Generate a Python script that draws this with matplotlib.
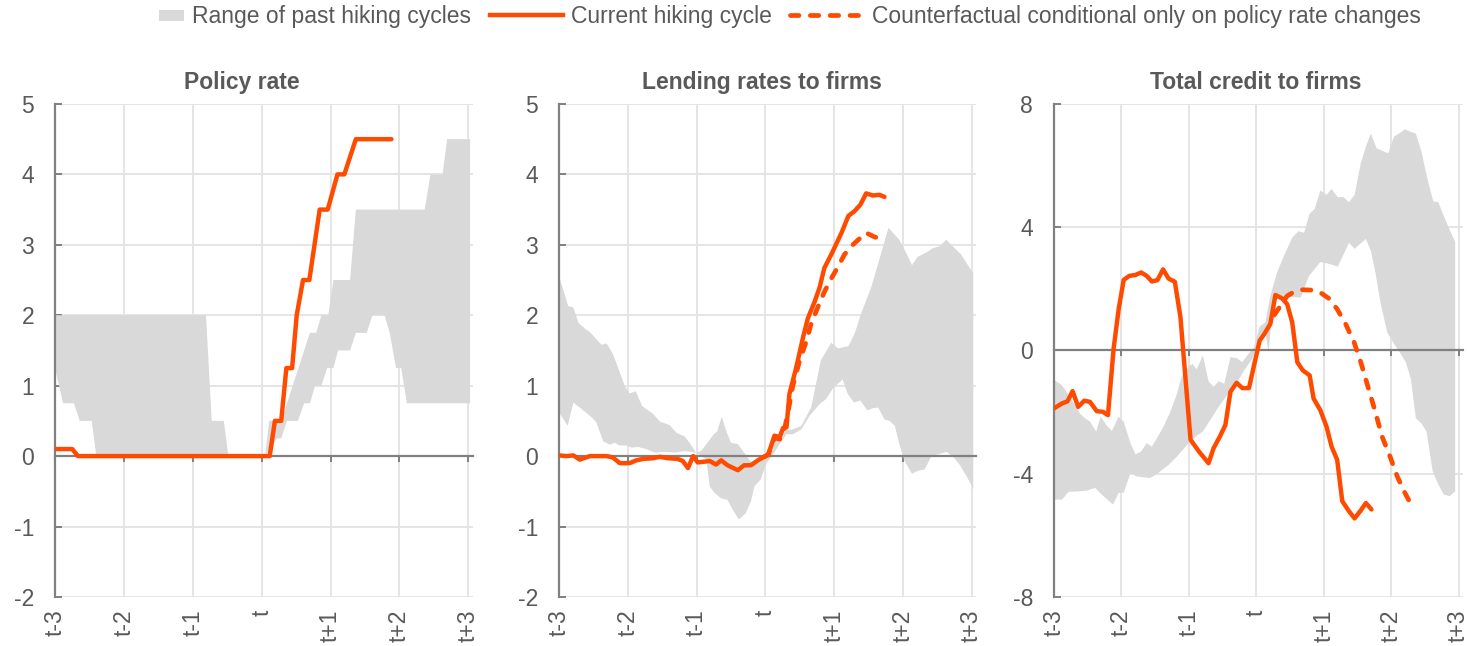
import matplotlib.pyplot as plt
from matplotlib.patches import Patch, Rectangle
from matplotlib.lines import Line2D
from matplotlib.legend_handler import HandlerPatch

plt.rcParams['font.family'] = ['Liberation Sans', 'DejaVu Sans']
plt.rcParams['axes.unicode_minus'] = False
plt.rcParams['lines.dash_capstyle'] = 'round'

ORANGE = '#FF4B00'
BAND = '#D9D9D9'
GRID = '#E3E3E3'
AXIS = '#808080'
TEXT = '#595959'
DASH = (1.8, 2.4)

# months relative to the first hike (t)
ticks = [-36, -24, -12, 0, 12, 24, 36]
tick_labels = ['t-3', 't-2', 't-1', 't', 't+1', 't+2', 't+3']

# --- Policy rate ---
policy_hi_m = [-36, -9.7, -8.7, -6.6, -5.8, 0.6, 1.3, 3.4, 8.4, 9.5, 10.4, 11.6, 12.5, 15.4,
               16.4, 28.4, 29.4, 31.5, 32.3, 36.3]
policy_hi = [2.0, 2.0, 0.5, 0.5, 0.0, 0.0, 0.5, 0.5, 1.75, 1.75, 2.0, 2.0, 2.5, 2.5,
             3.5, 3.5, 4.0, 4.0, 4.5, 4.5]
policy_lo_m = [-36, -34.6, -32.7, -31.7, -29.6, -28.8, 0.6, 2.6, 3.4, 4.4, 6.3, 7.4, 8.4, 9.3,
               10.4, 11.4, 12.5, 13.3, 15.4, 16.4, 18.3, 19.3, 21.4, 22.3, 23.4, 24.3, 25.3, 36.3]
policy_lo = [1.25, 0.75, 0.75, 0.5, 0.5, 0.0, 0.0, 0.25, 0.25, 0.5, 0.5, 0.75, 0.75, 1.0,
             1.0, 1.25, 1.25, 1.5, 1.5, 1.75, 1.75, 2.0, 2.0, 1.75, 1.25, 1.25, 0.75, 0.75]
policy_cur_m = [-36, -33, -32, 1.4, 2.3, 3.4, 4.3, 5.3, 6.1, 7.2, 8.3, 10.1, 11.5, 13.2, 14.4,
                16.4, 22.6]
policy_cur = [0.1, 0.1, 0.0, 0.0, 0.5, 0.5, 1.25, 1.25, 2.0, 2.5, 2.5, 3.5, 3.5, 4.0, 4.0,
              4.5, 4.5]

# --- Lending rates to firms ---
lend_hi_m = [-36, -34.4, -33.5, -32.6, -31.5, -30.6, -28.6, -27.7, -26.6, -24.5, -23.7, -22.6,
             -21.5, -19.6, -18.4, -16.7, -15.5, -14.1, -13.2, -12.1, -11.2, -10.0, -9.0, -8.4,
             -7.6, -6.7, -6.0, -4.8, -3.7, -2.5, -1.3, -0.2, 1.0, 2.8, 4.8, 6.3, 8.0, 9.7, 11.5,
             12.7, 14.5, 15.6, 16.7, 18.5, 19.9, 21.5, 23.4, 24.5, 25.6, 26.6, 28.1, 29.2, 30.4,
             31.6, 32.7, 34.2, 35.6, 36.3]
lend_hi = [2.55, 2.13, 2.11, 1.89, 1.81, 1.76, 1.58, 1.6, 1.45, 0.99, 0.89, 0.92,
           0.71, 0.6, 0.49, 0.44, 0.33, 0.28, 0.19, 0.05, 0.07, 0.2, 0.31, 0.35,
           0.56, 0.33, 0.19, 0.17, 0.05, -0.08, -0.05, 0.0, 0.12, 0.36, 0.38, 0.43, 0.69, 1.36, 1.61,
           1.53, 1.56, 1.74, 2.02, 2.4, 2.79, 3.24, 3.07, 2.9, 2.71, 2.83, 2.89, 2.95, 2.98,
           3.07, 2.98, 2.86, 2.68, 2.6]
lend_lo_m = [-36, -34.5, -33.5, -32.4, -30.3, -29.5, -28.3, -27.1, -26.3, -25.4, -24.2, -23.4,
             -22.2, -20.8, -19.3, -17.6, -15.8, -14.1, -12.9, -12.1, -11.0, -10.3, -9.7, -8.9,
             -7.7, -6.6, -5.7, -4.6, -3.4, -2.5, -1.9, -0.8, 0.2, 1.3, 2.5, 3.7, 4.8, 6.3, 7.7,
             9.5, 10.6, 11.8, 13.5, 14.4, 15.5, 16.6, 17.8, 18.8, 19.7, 20.8, 21.7, 22.6, 23.4,
             24.3, 25.6, 26.6, 27.8, 29.0, 30.4, 31.6, 32.7, 33.9, 35.3, 36.3]
lend_lo = [0.62, 0.43, 0.76, 0.69, 0.55, 0.48, 0.21, 0.16, 0.19, 0.15, 0.15, 0.12,
           0.13, 0.1, 0.05, 0.06, 0.05, 0.07, 0.06, 0.05, 0.0, -0.05, -0.43, -0.52,
           -0.6, -0.62, -0.76, -0.9, -0.81, -0.64, -0.43, -0.33, -0.1, 0.02, 0.17, 0.31, 0.31, 0.38,
           0.57, 0.74, 0.81, 0.96, 1.09, 0.88, 0.76, 0.79, 0.65, 0.68, 0.69, 0.52, 0.5, 0.43, 0.17,
           -0.07, -0.25, -0.21, -0.19, 0.0, 0.03, 0.06, 0.0, -0.12, -0.31, -0.47]
lend_cur_m = [-36, -34.7, -33.5, -32.4, -30.6, -29.2, -27.7, -26.6, -25.4, -23.7, -22.5, -21.3,
              -19.6, -18.4, -17.0, -15.3, -14.4, -13.5, -12.6, -11.8, -9.7, -8.6, -7.7, -6.6,
              -4.8, -3.7, -2.5, -1.3, -0.2, 0.5, 1.6, 2.5, 3.1, 3.7, 4.2, 5.4, 6.6, 7.4, 8.6, 9.5,
              10.3, 11.5, 13.3, 14.5, 15.6, 16.6, 17.6, 18.8, 19.9, 20.8]
lend_cur = [0.01, 0.0, 0.01, -0.05, 0.0, 0.0, 0.0, -0.02, -0.1, -0.1, -0.06, -0.04,
            -0.03, -0.01, -0.03, -0.04, -0.07, -0.17, 0.0, -0.09, -0.07, -0.12, -0.06, -0.13,
            -0.2, -0.13, -0.13, -0.06, -0.01, 0.02, 0.29, 0.27, 0.4, 0.41, 0.88, 1.26, 1.69, 1.95,
            2.19, 2.4, 2.67, 2.86, 3.17, 3.41, 3.48, 3.57, 3.73, 3.7, 3.71, 3.68]
lend_cf_m = [-0.2, 0.5, 1.6, 2.5, 3.4, 4.0, 4.8, 6.0, 7.2, 8.0, 9.2, 10.3, 11.5, 12.7, 13.8,
             15.0, 16.2, 17.6, 19.1, 20.8]
lend_cf = [-0.01, 0.02, 0.26, 0.24, 0.4, 0.64, 1.0, 1.36, 1.64, 1.88, 2.12, 2.33, 2.52, 2.69,
           2.86, 2.98, 3.07, 3.17, 3.11, 3.08]

# --- Total credit to firms ---
credit_hi_m = [-36, -34.6, -33.4, -32.3, -31.4, -30.5, -29.6, -28.5, -27.7, -26.7, -25.7, -24.5,
               -23.6, -22.4, -21.5, -20.5, -19.5, -18.6, -17.7, -16.5, -15.3, -14.2, -13.3, -12.3,
               -11.4, -10.6, -9.5, -8.5, -7.6, -6.7, -5.7, -4.6, -3.5, -2.5, -1.6, -0.4, 0.6, 1.6,
               2.5, 3.7, 4.9, 6.4, 7.5, 8.5, 9.5, 10.4, 11.4, 12.5, 13.4, 14.5, 15.5, 16.5, 17.5,
               18.6, 19.5, 20.4, 21.4, 22.4, 23.5, 24.5, 25.4, 26.5, 27.4, 28.4, 29.4, 30.5, 31.5,
               32.4, 33.4, 34.4, 35.4]
credit_hi = [-0.95, -1.13, -1.45, -1.77, -2.04, -2.2, -2.31, -2.63, -2.15, -2.42, -2.61, -2.15,
             -2.31, -3.01, -3.37, -3.28, -3.01, -3.12, -2.85, -2.47, -1.99, -1.45, -0.86, -0.59,
             -0.43, -0.61, -0.16, -1.0, -1.18, -1.0, -1.08, -0.22, -0.25, -0.38, -0.16, 0.11, 0.78,
             0.91, 1.77, 2.53, 3.06, 3.66, 3.87, 3.82, 4.44, 4.59, 5.19, 5.05, 5.24, 4.97, 4.98,
             4.81, 5.05, 6.08, 6.61, 7.04, 6.56, 6.48, 6.4, 6.94, 7.04, 7.18, 7.1, 7.04, 6.45,
             5.54, 4.84, 4.81, 4.35, 3.92, 3.52]
credit_lo_m = [-36, -34.6, -33.4, -31.4, -30.2, -28.7, -27.2, -25.5, -24.5, -23.6, -22.4, -21.3,
               -18.9, -17.7, -15.6, -14.1, -12.3, -10.8, -9.5, -8.2, -6.7, -5.2, -3.7, -2.2, -0.7,
               0.4, 1.5, 2.2, 3.0, 5.0, 7.9, 9.4, 11.4, 13.2, 14.5, 16.5, 17.5, 19.5, 20.4, 21.2,
               22.1, 23.3, 24.5, 25.5, 26.6, 27.5, 28.4, 29.4, 30.3, 31.4, 32.4, 33.4, 34.4, 35.4]
credit_lo = [-4.84, -4.84, -4.59, -4.57, -4.55, -4.46, -4.73, -5.0, -4.62, -4.62, -3.98, -4.09,
             -4.14, -4.01, -3.71, -3.44, -3.06, -2.8, -2.63, -2.26, -1.83, -1.45, -1.13, -0.65,
             -0.27, 0.35, 0.7, -0.05, 1.6, 1.75, 1.72, 2.42, 2.87, 2.8, 2.72, 3.49, 3.3, 3.62,
             3.23, 2.53, 1.56, 0.59, 0.22, -0.05, -0.38, -0.91, -2.2, -2.37, -2.63, -3.92, -4.35,
             -4.68, -4.73, -4.57]
credit_cur_m = [-36, -34.6, -33.6, -32.7, -31.7, -30.6, -29.6, -28.4, -27.3, -26.4, -25.4, -24.5,
                -23.6, -22.6, -21.5, -20.5, -19.5, -18.6, -17.6, -16.6, -15.6, -14.5, -13.5, -12.6,
                -11.7, -10.2, -8.5, -7.6, -6.5, -5.5, -4.6, -3.5, -2.5, -1.3, -0.4, 0.6, 1.3, 2.5,
                3.4, 4.6, 5.5, 6.4, 7.3, 8.3, 9.5, 10.2, 11.4, 12.5, 13.4, 14.4, 15.3, 16.5, 17.5,
                18.6, 19.5, 20.5]
credit_cur = [-1.88, -1.72, -1.65, -1.32, -1.83, -1.63, -1.67, -1.97, -1.99, -2.1, 0.05, 1.34,
              2.29, 2.42, 2.45, 2.53, 2.42, 2.24, 2.28, 2.63, 2.33, 2.23, 1.08, -0.91,
              -2.9, -3.28, -3.66, -3.17, -2.8, -2.42, -1.34, -1.05, -1.22, -1.22, -0.48, 0.32, 0.5,
              0.86, 1.8, 1.69, 1.5, 0.91, -0.38, -0.65, -0.81, -1.56, -1.94, -2.47, -3.12, -3.55,
              -4.89, -5.22, -5.45, -5.19, -4.95, -5.16]
credit_cf_m = [3.2, 4.3, 5.5, 6.7, 8.2, 9.7, 11.4, 12.9, 14.4, 15.9, 17.4, 18.6, 19.8, 21.1,
               22.4, 23.8, 25.1, 26.3, 27.5]
credit_cf = [1.15, 1.45, 1.77, 1.9, 1.97, 1.96, 1.88, 1.69, 1.34, 0.86, 0.27, -0.38, -1.13,
             -1.94, -2.8, -3.44, -4.09, -4.57, -4.98]

panels = [
    dict(title='Policy rate', pos=[0.0375, 0.0759, 0.2849, 0.7632], tx=0.447,
         yticks=[-2, -1, 0, 1, 2, 3, 4, 5],
         band=(policy_hi_m, policy_hi, policy_lo_m, policy_lo),
         cur=(policy_cur_m, policy_cur), cf=None),
    dict(title='Lending rates to firms', pos=[0.3811, 0.0759, 0.2843, 0.7632], tx=0.487,
         yticks=[-2, -1, 0, 1, 2, 3, 4, 5],
         band=(lend_hi_m, lend_hi, lend_lo_m, lend_lo),
         cur=(lend_cur_m, lend_cur), cf=(lend_cf_m, lend_cf)),
    dict(title='Total credit to firms', pos=[0.7185, 0.0759, 0.2788, 0.7632], tx=0.494,
         yticks=[-8, -4, 0, 4, 8],
         band=(credit_hi_m, credit_hi, credit_lo_m, credit_lo),
         cur=(credit_cur_m, credit_cur), cf=(credit_cf_m, credit_cf)),
]

fig = plt.figure(figsize=(14.67, 6.46), dpi=100)

for p in panels:
    ax = fig.add_axes(p['pos'])
    hi_m, hi, lo_m, lo = p['band']
    ax.fill(hi_m + lo_m[::-1], hi + lo[::-1], color=BAND, lw=0, zorder=1)
    ax.plot(*p['cur'], color=ORANGE, lw=3.2, solid_capstyle='round',
            solid_joinstyle='round', zorder=4)
    if p['cf'] is not None:
        cf_line, = ax.plot(*p['cf'], color=ORANGE, lw=3.4, zorder=3)
        cf_line.set_dashes(DASH)
        cf_line.set_dash_capstyle('round')

    ax.set_xlim(-36, 36.8)
    ax.set_ylim(p['yticks'][0], p['yticks'][-1])
    ax.set_xticks(ticks)
    ax.set_yticks(p['yticks'])
    ax.set_axisbelow(True)
    ax.grid(True, color=GRID, lw=1.3)

    for side in ['top', 'right']:
        ax.spines[side].set_visible(False)
    ax.spines['left'].set_color(AXIS)
    ax.spines['left'].set_linewidth(1.6)
    ax.spines['bottom'].set_position(('data', 0))
    ax.spines['bottom'].set_color(AXIS)
    ax.spines['bottom'].set_linewidth(1.6)

    ax.tick_params(axis='y', direction='in', length=5, width=1.4, color=AXIS,
                   pad=15, labelsize=16.5, labelcolor=TEXT)
    ax.tick_params(axis='x', direction='out', length=4, width=1.4, color=AXIS,
                   labelbottom=False)

    sec = ax.secondary_xaxis('bottom')
    sec.set_xticks(ticks, tick_labels)
    sec.tick_params(length=0, pad=9, labelsize=16.5, labelcolor=TEXT, labelrotation=90)
    sec.spines['bottom'].set_visible(False)

    ax.set_title(p['title'], x=p['tx'], pad=11, fontsize=16.5, fontweight='bold', color=TEXT)


def small_box(legend, orig_handle, xdescent, ydescent, width, height, fontsize):
    w, h = 1.1 * fontsize, 0.48 * fontsize
    return Rectangle((-xdescent + width - w, -ydescent + (height - h) / 2), w, h)


cf_handle = Line2D([], [], color=ORANGE, lw=3.4)
cf_handle.set_dashes(DASH)
cf_handle.set_dash_capstyle('round')
handles = [
    Patch(facecolor=BAND, edgecolor='none'),
    Line2D([], [], color=ORANGE, lw=3.2),
    cf_handle,
]
labels = ['Range of past hiking cycles', 'Current hiking cycle',
          'Counterfactual conditional only on policy rate changes']
fig.legend(handles, labels, loc='center', bbox_to_anchor=(0.522, 0.974), ncol=3,
           frameon=False, fontsize=16.5, labelcolor=TEXT, handlelength=3.2,
           handletextpad=0.35, columnspacing=0.8,
           handler_map={Patch: HandlerPatch(patch_func=small_box)})

fig.savefig('out.png', dpi=100)
